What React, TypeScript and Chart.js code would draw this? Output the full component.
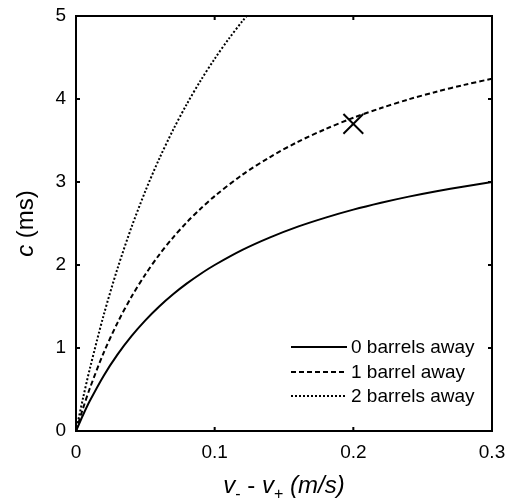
import React, { useEffect, useRef } from "react";
import { Chart, registerables } from "chart.js";

Chart.register(...registerables);

const xValues = [0, 0.005, 0.01, 0.02, 0.03, 0.04, 0.05, 0.06, 0.07, 0.08, 0.09, 0.1, 0.12, 0.14, 0.16, 0.18, 0.2, 0.22, 0.24, 0.26, 0.28, 0.3];
const zeroBarrels = [0, 0.19, 0.364, 0.667, 0.923, 1.143, 1.333, 1.5, 1.647, 1.778, 1.895, 2.0, 2.182, 2.333, 2.462, 2.571, 2.667, 2.75, 2.824, 2.889, 2.947, 3.0];
const oneBarrel = [0, 0.269, 0.515, 0.944, 1.306, 1.617, 1.886, 2.123, 2.331, 2.516, 2.681, 2.83, 3.088, 3.301, 3.484, 3.638, 3.774, 3.891, 3.996, 4.088, 4.17, 4.245];
const xDotted = [0, 0.005, 0.01, 0.02, 0.03, 0.04, 0.05, 0.06, 0.07, 0.08, 0.09, 0.1, 0.11, 0.12, 0.13];
const twoBarrels = [0, 0.391, 0.752, 1.399, 1.961, 2.454, 2.89, 3.279, 3.627, 3.941, 4.225, 4.484, 4.721, 4.938, 5.138];
const markerPoint = { x: 0.2, y: 3.7 };
const legendLabels = ["0 barrels away", "1 barrel away", "2 barrels away"];
const xTicks = [0, 0.1, 0.2, 0.3];
const yTicks = [0, 1, 2, 3, 4, 5];

const FONT = "'Liberation Sans', Arial, sans-serif";

const framePlugin = {
  id: "frame",
  afterDraw(chart: any) {
    const { ctx, chartArea: a, scales } = chart;
    ctx.save();
    ctx.strokeStyle = "#000";
    ctx.lineWidth = 2;
    ctx.strokeRect(a.left, a.top, a.right - a.left, a.bottom - a.top);
    const tl = 4;
    ctx.beginPath();
    xTicks.forEach((v) => {
      const px = scales.x.getPixelForValue(v);
      ctx.moveTo(px, a.bottom);
      ctx.lineTo(px, a.bottom - tl);
      ctx.moveTo(px, a.top);
      ctx.lineTo(px, a.top + tl);
    });
    yTicks.forEach((v) => {
      const py = scales.y.getPixelForValue(v);
      ctx.moveTo(a.left, py);
      ctx.lineTo(a.left + tl, py);
      ctx.moveTo(a.right, py);
      ctx.lineTo(a.right - tl, py);
    });
    ctx.stroke();

    // legend
    const styles = [[], [5, 3], [2, 2]];
    const lx = a.right - 201;
    const rows = [a.bottom - 84, a.bottom - 59, a.bottom - 35];
    ctx.font = `19px ${FONT}`;
    ctx.fillStyle = "#000";
    ctx.textBaseline = "middle";
    ctx.textAlign = "left";
    legendLabels.forEach((lab, i) => {
      ctx.beginPath();
      ctx.setLineDash(styles[i]);
      ctx.lineWidth = 2;
      ctx.moveTo(lx, rows[i]);
      ctx.lineTo(lx + 56, rows[i]);
      ctx.stroke();
      ctx.setLineDash([]);
      ctx.fillText(lab, lx + 60, rows[i] + 1);
    });

    // x title
    const big = 24;
    const small = 16;
    const segs = [
      { t: "v", f: `italic ${big}px ${FONT}`, dy: 0 },
      { t: "-", f: `${small}px ${FONT}`, dy: 6 },
      { t: " - ", f: `${big}px ${FONT}`, dy: 0 },
      { t: "v", f: `italic ${big}px ${FONT}`, dy: 0 },
      { t: "+", f: `${small}px ${FONT}`, dy: 6 },
      { t: " (m/s)", f: `italic ${big}px ${FONT}`, dy: 0 },
    ];
    ctx.textBaseline = "alphabetic";
    let total = 0;
    segs.forEach((s) => {
      ctx.font = s.f;
      total += ctx.measureText(s.t).width;
    });
    let x = (a.left + a.right) / 2 - total / 2;
    const base = a.bottom + 62;
    segs.forEach((s) => {
      ctx.font = s.f;
      ctx.fillText(s.t, x, base + s.dy);
      x += ctx.measureText(s.t).width;
    });

    // y title
    ctx.translate(33, (a.top + a.bottom) / 2);
    ctx.rotate(-Math.PI / 2);
    const ysegs = [
      { t: "c", f: `italic ${big}px ${FONT}` },
      { t: " (ms)", f: `${big}px ${FONT}` },
    ];
    let yt = 0;
    ysegs.forEach((s) => {
      ctx.font = s.f;
      yt += ctx.measureText(s.t).width;
    });
    let yx = -yt / 2;
    ysegs.forEach((s) => {
      ctx.font = s.f;
      ctx.fillText(s.t, yx, 0);
      yx += ctx.measureText(s.t).width;
    });
    ctx.restore();
  },
};

export default function App() {
  const ref = useRef<HTMLCanvasElement | null>(null);
  useEffect(() => {
    document.body.style.margin = "0";
    const toPts = (xs: number[], ys: number[]) => xs.map((x, i) => ({ x, y: ys[i] }));
    const chart = new Chart(ref.current!, {
      type: "scatter",
      data: {
        datasets: [
          { data: toPts(xValues, zeroBarrels), showLine: true, borderColor: "#000", borderWidth: 2, pointRadius: 0, tension: 0.3 },
          { data: toPts(xValues, oneBarrel), showLine: true, borderColor: "#000", borderWidth: 2, borderDash: [5, 3], pointRadius: 0, tension: 0.3 },
          { data: toPts(xDotted, twoBarrels), showLine: true, borderColor: "#000", borderWidth: 2, borderDash: [2, 2], pointRadius: 0, tension: 0.3 },
          { data: [markerPoint], showLine: false, pointStyle: "crossRot", pointRadius: 14, borderColor: "#000", borderWidth: 2 },
        ],
      },
      options: {
        responsive: false,
        animation: false,
        layout: { padding: { left: 0, right: 15, top: 14, bottom: 0 } },
        plugins: { legend: { display: false }, tooltip: { enabled: false } },
        scales: {
          x: {
            type: "linear",
            min: 0,
            max: 0.3,
            afterBuildTicks: (s: any) => { s.ticks = xTicks.map((v) => ({ value: v })); },
            afterFit: (s: any) => { s.height = 70; s.paddingLeft = 0; s.paddingRight = 0; },
            grid: { display: false, drawTicks: false },
            border: { display: false },
            ticks: { color: "#000", font: { family: FONT, size: 19 }, padding: 10, callback: (v: any) => String(v) },
          },
          y: {
            type: "linear",
            min: 0,
            max: 5,
            afterBuildTicks: (s: any) => { s.ticks = yTicks.map((v) => ({ value: v })); },
            afterFit: (s: any) => { s.width = 76; s.paddingTop = 0; s.paddingBottom = 0; },
            grid: { display: false, drawTicks: false },
            border: { display: false },
            ticks: { color: "#000", font: { family: FONT, size: 19 }, padding: 10 },
          },
        },
      },
      plugins: [framePlugin],
    });
    return () => chart.destroy();
  }, []);
  return (
    <div style={{ width: 508, height: 501 }}>
      <canvas ref={ref} width={508} height={501} />
    </div>
  );
}
